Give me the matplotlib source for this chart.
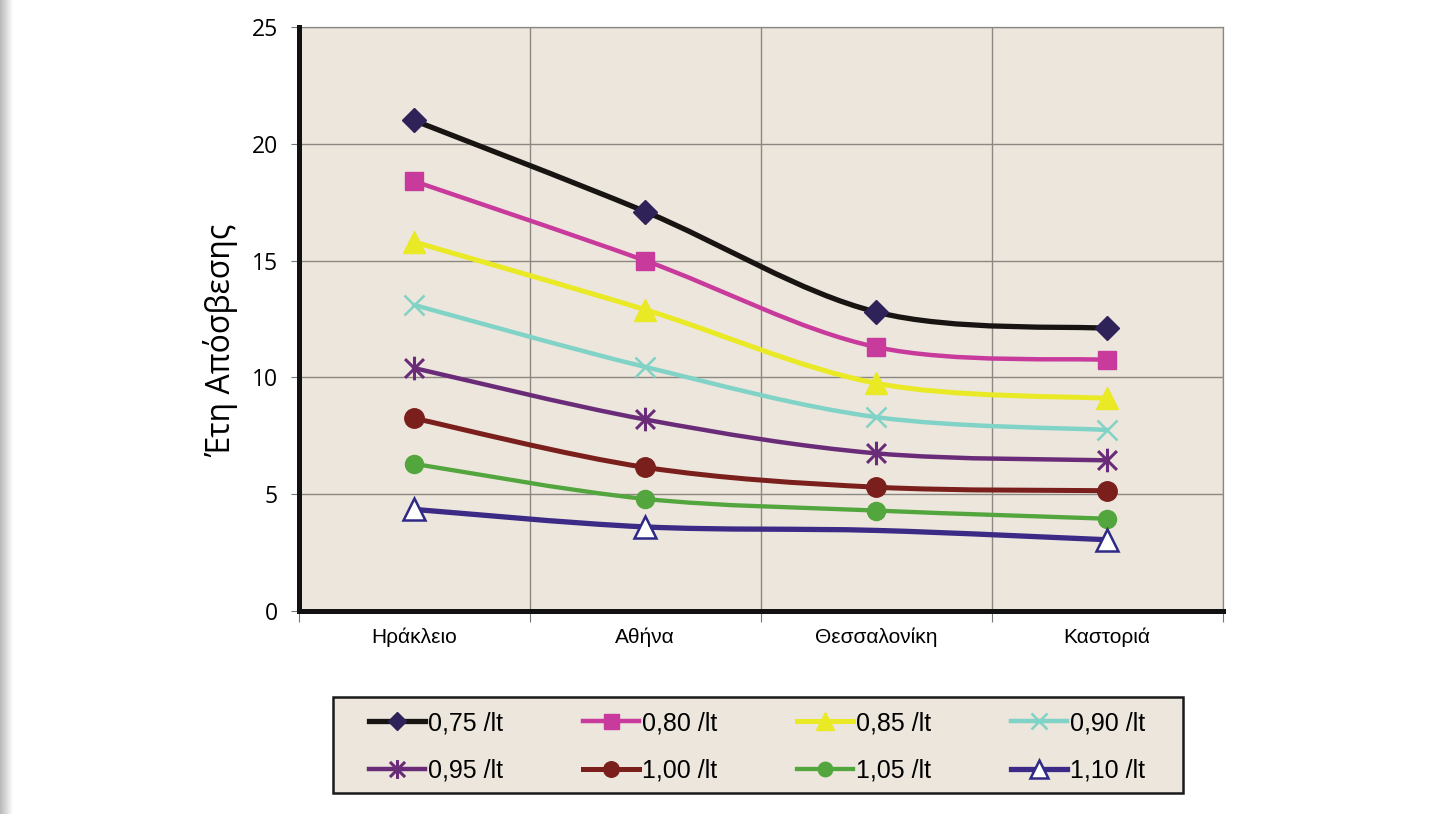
import numpy as np
import matplotlib
matplotlib.use("Agg")
import matplotlib.pyplot as plt
from matplotlib.path import Path
from matplotlib.patches import PathPatch, Rectangle
from matplotlib.lines import Line2D

# ---- data -------------------------------------------------------------
cities = ["Ηράκλειο", "Αθήνα", "Θεσσαλονίκη", "Καστοριά"]
price_labels = ["0,75 /lt", "0,80 /lt", "0,85 /lt", "0,90 /lt",
                "0,95 /lt", "1,00 /lt", "1,05 /lt", "1,10 /lt"]

years_075 = [21.0, 17.1, 12.8, 12.1]
years_080 = [18.4, 15.0, 11.3, 10.75]
years_085 = [15.8, 12.9, 9.75, 9.1]
years_090 = [13.1, 10.45, 8.3, 7.75]
years_095 = [10.4, 8.2, 6.75, 6.45]
years_100 = [8.25, 6.15, 5.3, 5.15]
years_105 = [6.3, 4.8, 4.3, 3.95]
years_110 = [4.35, 3.6, 3.45, 3.05]

series = [years_075, years_080, years_085, years_090,
          years_095, years_100, years_105, years_110]

yticks = [0, 5, 10, 15, 20, 25]
y_title = "Έτη Απόσβεσης"

# ---- styles -----------------------------------------------------------
asterisk = Path([(0, -1), (0, 1), (-0.8, -0.8), (0.8, 0.8), (-0.8, 0.8), (0.8, -0.8)],
                [Path.MOVETO, Path.LINETO] * 3)

styles = [
    dict(color="#171412", lw=3.8, marker="D", ms=12, mfc="#2E2258", mec="#2E2258", mew=1),
    dict(color="#C83A9C", lw=3.2, marker="s", ms=13.5, mfc="#C83A9C", mec="#C83A9C", mew=1),
    dict(color="#E9E925", lw=3.6, marker="^", ms=15.5, mfc="#E9E925", mec="#E9E925", mew=1),
    dict(color="#80D3C6", lw=3.2, marker="x", ms=15, mfc="#80D3C6", mec="#80D3C6", mew=1.8),
    dict(color="#6A2C78", lw=3.2, marker=asterisk, ms=17, mfc="#6A2C78", mec="#6A2C78", mew=2.2),
    dict(color="#7A1F1C", lw=3.6, marker="o", ms=14, mfc="#7A1F1C", mec="#7A1F1C", mew=1),
    dict(color="#52A63D", lw=3.1, marker="o", ms=13, mfc="#52A63D", mec="#52A63D", mew=1),
    dict(color="#3B2A86", lw=3.8, marker="^", ms=15.5, mfc="white", mec="#2E2A86", mew=1.8),
]
marked_points = [None, None, None, None, None, None, None, [0, 1, 3]]

PLOT_BG = "#ECE6DC"
GRID = "#8C8782"
SANS = ["Liberation Sans", "DejaVu Sans"]
TICKFONT = ["Open Sans", "DejaVu Sans"]


def smooth_path(xs, ys):
    """Cubic Bezier path through the points (Catmull-Rom style tangents)."""
    pts = np.column_stack([xs, ys]).astype(float)
    n = len(pts)
    verts = [pts[0]]
    codes = [Path.MOVETO]
    for i in range(n - 1):
        p0 = pts[i - 1] if i > 0 else pts[i]
        p1, p2 = pts[i], pts[i + 1]
        p3 = pts[i + 2] if i + 2 < n else pts[i + 1]
        verts += [p1 + (p2 - p0) / 6.0, p2 - (p3 - p1) / 6.0, p2]
        codes += [Path.CURVE4] * 3
    return Path(verts, codes)


# ---- figure -----------------------------------------------------------
W, H, DPI = 1446, 814, 100
fig = plt.figure(figsize=(W / DPI, H / DPI), dpi=DPI, facecolor="white")

# soft grey edge on the left side of the page
edge = fig.add_axes([0, 0, 13 / W, 1])
grad = np.linspace(0.72, 1.0, 64)[None, :]
edge.imshow(np.dstack([grad, grad, grad]), aspect="auto", extent=[0, 1, 0, 1])
edge.set_axis_off()

ax = fig.add_axes([298.5 / W, 1 - 611 / H, (1222.7 - 298.5) / W, (611 - 27) / H])
ax.set_facecolor(PLOT_BG)
x = np.arange(len(cities))
ax.set_xlim(-0.5, len(cities) - 0.5)
ax.set_ylim(yticks[0], yticks[-1])

for i, (vals, st) in enumerate(zip(series, styles)):
    z = 3 + i * 0.1
    ax.add_patch(PathPatch(smooth_path(x, vals), fill=False, edgecolor=st["color"],
                           lw=st["lw"], capstyle="round", joinstyle="round", zorder=z))
    ax.plot(x, vals, linestyle="none", marker=st["marker"], ms=st["ms"],
            mfc=st["mfc"], mec=st["mec"], mew=st["mew"],
            markevery=marked_points[i], zorder=z + 0.05)

# axes, ticks, grid
ax.set_xticks(x)
ax.set_xticklabels(cities, family=SANS, fontsize=15)
ax.set_xticks(np.arange(-0.5, len(cities)), minor=True)
ax.tick_params(axis="x", which="major", length=0, pad=12)
ax.tick_params(axis="x", which="minor", length=8, width=0.8, color="#777777")
ax.set_yticks(yticks)
ax.set_yticklabels([str(v) for v in yticks], family=TICKFONT, fontsize=16.5)
ax.tick_params(axis="y", length=6, width=0.8, color="#777777", pad=9)
ax.grid(True, axis="x", which="minor", color=GRID, lw=1.0)
ax.grid(True, axis="y", which="major", color=GRID, lw=1.0)
ax.set_axisbelow(True)

for side in ("left", "bottom"):
    ax.spines[side].set_color("#111111")
    ax.spines[side].set_linewidth(3.6)
    ax.spines[side].set_zorder(5)
for side in ("top", "right"):
    ax.spines[side].set_color(GRID)
    ax.spines[side].set_linewidth(0.9)

ax.set_ylabel(y_title, family=TICKFONT, fontsize=23, va="center")
ax.yaxis.set_label_coords(-0.084, 0.463)

# ---- legend -----------------------------------------------------------
box = Rectangle((333 / W, 1 - 793 / H), 850 / W, 96 / H, transform=fig.transFigure,
                facecolor=PLOT_BG, edgecolor="#1A1A1A", lw=1.8, zorder=0)
fig.patches.append(box)

handles = [Line2D([], [], color=st["color"], lw=st["lw"], marker=st["marker"],
                  ms=st["ms"] * 0.8, mfc=st["mfc"], mec=st["mec"], mew=st["mew"])
           for st in styles]

# legend is filled column by column; order entries so rows read left to right
ncol = 4
order = [r * ncol + c for c in range(ncol) for r in range(2)]
leg_handles = [handles[k] for k in order]
leg_labels = [price_labels[k] for k in order]

LEG_FS = 18
fs_px = LEG_FS * DPI / 72.0
handle_px, textpad_px, pitch_px = 56, 3, 214


def make_legend(colsp):
    return fig.legend(leg_handles, leg_labels, ncol=ncol, loc="center left",
                      bbox_to_anchor=(369 / W, 1 - 747 / H), frameon=False,
                      borderpad=0, borderaxespad=0, handlelength=handle_px / fs_px,
                      handletextpad=textpad_px / fs_px, columnspacing=colsp,
                      labelspacing=0.95, prop=dict(family=SANS, size=LEG_FS))


leg = make_legend(3.0)
fig.canvas.draw()
renderer = fig.canvas.get_renderer()
tw = max(t.get_window_extent(renderer).width for t in leg.get_texts())
leg.remove()
leg = make_legend(max((pitch_px - handle_px - textpad_px - tw) / fs_px, 0.2))

fig.savefig("out.png", dpi=DPI, facecolor="white")
